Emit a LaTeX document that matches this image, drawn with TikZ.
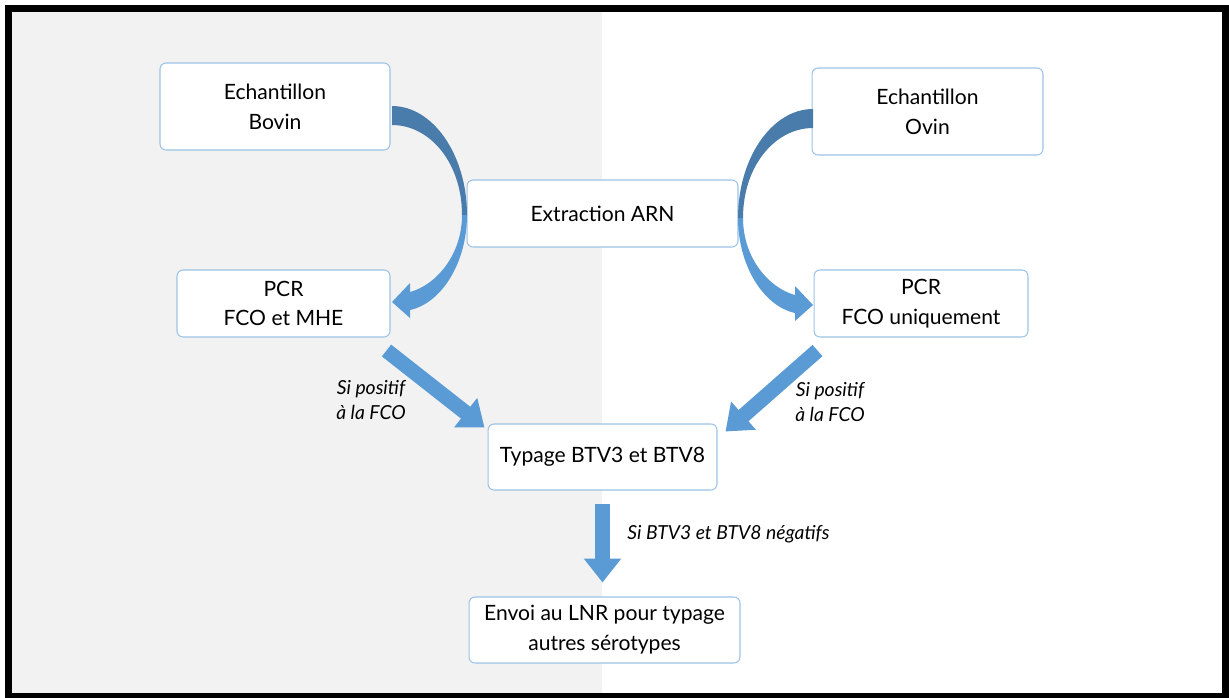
\documentclass[tikz,border=0pt]{standalone}
\usepackage{fontspec}
\setmainfont{Lato}
\usepackage{tikz}
\usetikzlibrary{arrows.meta}

\definecolor{bordbleu}{HTML}{9DC3E6}
\definecolor{flecheclaire}{HTML}{5B9BD5}
\definecolor{flechefoncee}{HTML}{497CAA}
\definecolor{fondgris}{HTML}{F2F2F2}

\tikzset{
	boite/.style={draw=bordbleu, line width=0.6pt, fill=white, rounded corners=0.12cm,
		align=center, font=\fontsize{12}{17}\selectfont, inner sep=0pt},
	etiquette/.style={font=\fontsize{11}{14}\selectfont\itshape, align=center, inner sep=0pt},
	grossefleche/.style={draw=flecheclaire, line width=0.3cm,
		-{Triangle[width=0.72cm,length=0.48cm]}},
}

\begin{document}
\begin{tikzpicture}[x=0.02cm, y=-0.02cm]
			% Cadre et fond
			\useasboundingbox (0,0) rectangle (1229,697);
			\fill[fondgris] (12,12) rectangle (602,693);
			\draw[line width=0.14cm] (8.5,8) rectangle (1225.5,696);

			% Definir les positions des boites
			\coordinate (pBovin) at (275,106.5);   % Echantillon bovin
			\coordinate (pOvin) at (927.5,111.5);  % Echantillon ovin
			\coordinate (pExtr) at (602.5,213.5);  % Extraction
			\coordinate (pPcrB) at (283.5,303.5);  % PCR bovin
			\coordinate (pPcrO) at (921,303.5);    % PCR ovin
			\coordinate (pTyp) at (602.5,457);     % Typage
			\coordinate (pLnr) at (604.5,630);     % Envoi LNR

			% Dessiner les boites
			\node[boite, minimum width=4.6cm, minimum height=1.74cm] (bovin) at (pBovin) {Echantillon\\Bovin};
			\node[boite, minimum width=4.62cm, minimum height=1.74cm] (ovin) at (pOvin) {Echantillon\\Ovin};
			\node[boite, minimum width=5.42cm, minimum height=1.34cm] (extr) at (pExtr) {Extraction ARN};
			\node[boite, minimum width=4.26cm, minimum height=1.34cm] (pcrb) at (pPcrB) {PCR\\FCO et MHE};
			\node[boite, minimum width=4.28cm, minimum height=1.34cm] (pcro) at (pPcrO) {PCR\\FCO uniquement};
			\node[boite, minimum width=4.58cm, minimum height=1.32cm] (typ) at (pTyp) {Typage BTV3 et BTV8};
			\node[boite, minimum width=5.42cm, minimum height=1.32cm] (lnr) at (pLnr) {Envoi au LNR pour typage\\autres sérotypes};

			% Fleches courbes (cote bovin puis cote ovin)
			\fill[flechefoncee] (392,106) .. controls (433,106) and (467,155) .. (467,215)
				-- (462,215) .. controls (462,163) and (430,125) .. (392,125) -- cycle;
			\fill[flecheclaire] (467,215) .. controls (467,262) and (442,303) .. (410,310)
				-- (410,318) -- (392,302) -- (410,283) -- (410,292)
				.. controls (436,285) and (462,255) .. (462,215) -- cycle;
			\begin{scope}[shift={(1205,3)}, xscale=-1]
				\fill[flechefoncee] (392,106) .. controls (433,106) and (467,155) .. (467,215)
					-- (462,215) .. controls (462,163) and (430,125) .. (392,125) -- cycle;
				\fill[flecheclaire] (467,215) .. controls (467,262) and (442,303) .. (410,310)
					-- (410,318) -- (392,302) -- (410,283) -- (410,292)
					.. controls (436,285) and (462,255) .. (462,215) -- cycle;
			\end{scope}

			% Fleches droites
			\draw[grossefleche] ([shift={(-4,13)}]pcrb.south east) -- ([shift={(-3,4)}]typ.north west);
			\draw[grossefleche] ([shift={(4,13)}]pcro.south west) -- ([shift={(8,8)}]typ.north east);
			\draw[grossefleche, shorten <=0.26cm, shorten >=0.28cm] (typ.south) -- (typ.south |- lnr.north);

			% Conditions
			\node[etiquette] (condB) at (371,400) {Si positif\\à la FCO};
			\node[etiquette] (condO) at (830,402) {Si positif\\à la FCO};
			\node[etiquette, anchor=west] (condT) at (627,534) {Si BTV3 et BTV8 négatifs};

		\end{tikzpicture}
\end{document}
